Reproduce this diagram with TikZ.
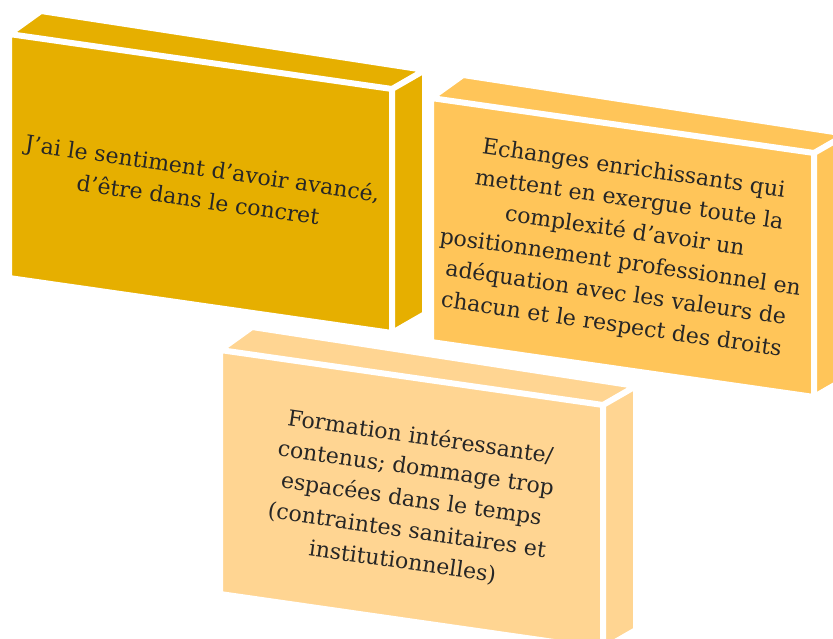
\documentclass[tikz,border=0pt]{standalone}
\usepackage{fontspec}
\setmainfont{DejaVu Serif}
\usetikzlibrary{calc}
\definecolor{boxA}{HTML}{E6AF00}
\definecolor{boxB}{HTML}{FFC559}
\definecolor{boxC}{HTML}{FFD592}
\tikzset{
  facegap/.style={draw=white, line width=6pt, line join=miter},
  boxtext/.style={rotate=-8.2, align=center, text=black!85, inner sep=0pt,
    font=\fontsize{22}{31.5}\selectfont}
}
% #1 x, #2 y, #3 colour, #4 name, #5 text
\newcommand\drawcuboid[5]{%
  \coordinate (#4A) at (#1,#2);
  \coordinate (#4B) at ($(#4A)+(383,55)$);
  \coordinate (#4C) at ($(#4B)+(0,244)$);
  \coordinate (#4D) at ($(#4A)+(0,244)$);
  \coordinate (#4E) at ($(#4A)+(32,-23)$);
  \coordinate (#4F) at ($(#4B)+(33,-19)$);
  \coordinate (#4G) at ($(#4C)+(33,-19)$);
  \fill[#3] (#4A) -- (#4B) -- (#4C) -- (#4D) -- cycle;
  \fill[#3] (#4A) -- (#4E) -- (#4F) -- (#4B) -- cycle;
  \fill[#3] (#4B) -- (#4F) -- (#4G) -- (#4C) -- cycle;
  \draw[facegap] (#4A) -- (#4B) -- (#4C) -- (#4D) -- cycle;
  \draw[facegap] (#4A) -- (#4E) -- (#4F) -- (#4B);
  \draw[facegap] (#4F) -- (#4G) -- (#4C);
  \node[boxtext] (#4text) at ($(#4A)!0.5!(#4C)$) {#5};
}
\begin{document}
\begin{tikzpicture}[x=1pt,y=-1pt]
\useasboundingbox (0,0) rectangle (833,639);
\clip (0,0) rectangle (833,639);
\drawcuboid{9}{34}{boxA}{one}{J'ai le sentiment d'avoir avancé,\\d'être dans le concret}
\drawcuboid{431}{98}{boxB}{two}{Echanges enrichissants qui\\mettent en exergue toute la\\complexité d'avoir un\\positionnement professionnel en\\adéquation avec les valeurs de\\chacun et le respect des droits}
\drawcuboid{220}{350}{boxC}{three}{Formation intéressante/\\contenus; dommage trop\\espacées dans le temps\\(contraintes sanitaires et\\institutionnelles)}
\end{tikzpicture}
\end{document}
